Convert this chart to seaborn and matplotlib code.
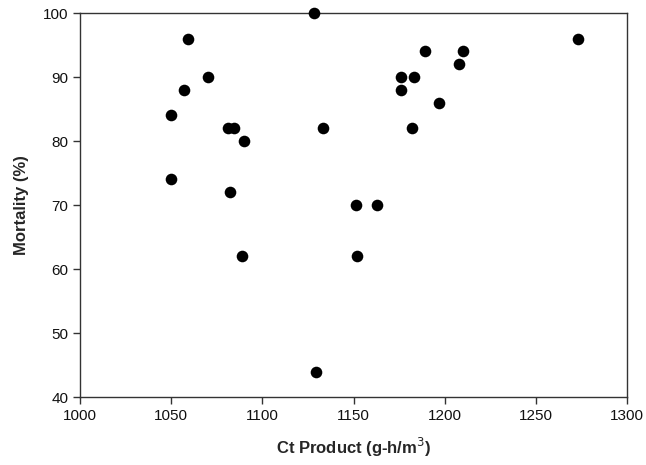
import matplotlib
matplotlib.use("Agg")
import matplotlib.pyplot as plt
import seaborn as sns
import pandas as pd

ct_product = [1050, 1050, 1059, 1057, 1070, 1081, 1084.5, 1090, 1082, 1128, 1133,
              1089, 1129.5, 1273, 1189, 1210, 1208, 1176, 1183, 1176, 1197, 1182,
              1151, 1163, 1152]
mortality = [84, 74, 96, 88, 90, 82, 82, 80, 72, 100, 82,
             62, 44, 96, 94, 94, 92, 90, 90, 88, 86, 82,
             70, 70, 62]

df = pd.DataFrame({"ct": ct_product, "mort": mortality})

sns.set_style("ticks")
plt.rcParams['font.family'] = ['Liberation Sans', 'DejaVu Sans']

fig = plt.figure(figsize=(6.46, 4.65), dpi=100)
ax = fig.add_axes([0.124, 0.146, 0.847, 0.826])
sns.scatterplot(data=df, x="ct", y="mort", ax=ax, color="black", s=70,
                edgecolor="black", linewidth=0, zorder=3, clip_on=False)

ax.set_xlim(1000, 1300)
ax.set_ylim(40, 100)
ax.set_xticks([1000, 1050, 1100, 1150, 1200, 1250, 1300])
ax.set_yticks([40, 50, 60, 70, 80, 90, 100])
for s in ax.spines.values():
    s.set_visible(True)
    s.set_color("#333333")
    s.set_linewidth(1.0)
ax.tick_params(direction="out", length=5, width=1, color="#333333",
               labelsize=11, labelcolor="#111111", top=False, right=False)
ax.set_xlabel("Ct Product (g-h/m$^3$)", fontsize=12, fontweight="bold", labelpad=9)
ax.set_ylabel("Mortality (%)", fontsize=12, fontweight="bold", labelpad=10)

fig.savefig("out.png", dpi=100)
